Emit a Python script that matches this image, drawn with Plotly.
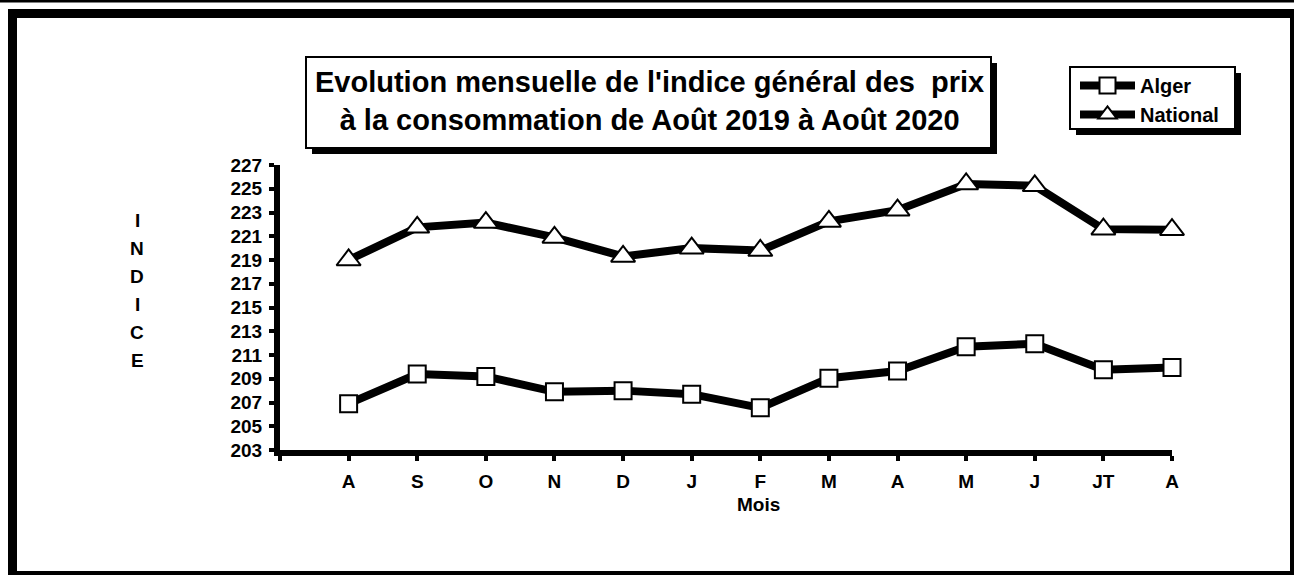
import plotly.graph_objects as go

months = ["A", "S", "O", "N", "D", "J", "F", "M", "A", "M", "J", "JT", "A"]
alger = [206.9, 209.4, 209.2, 207.9, 208.0, 207.7, 206.55, 209.05, 209.65, 211.7, 211.95, 209.75, 209.95]
national = [219.0, 221.75, 222.15, 220.9, 219.3, 220.0, 219.8, 222.25, 223.2, 225.4, 225.25, 221.6, 221.55]
y_ticks = list(range(203, 228, 2))
title_lines = ["Evolution mensuelle de l'indice général des\u00a0 prix",
               "à la consommation de Août 2019 à Août 2020"]
y_title = "INDICE"
x_title = "Mois"

W, H = 1294, 575
L, R, T, B = 280, 1172, 165, 450
FONT = "Liberation Sans, Arial, sans-serif"


def px(x):
    return (x - L) / (R - L)


def py(y):
    return (B - y) / (B - T)


xs = list(range(len(months)))

fig = go.Figure()
fig.add_trace(go.Scatter(
    x=xs, y=alger, name="Alger", mode="lines+markers", legendgroup="a",
    line=dict(color="black", width=8),
    marker=dict(symbol="square", size=17, color="white", line=dict(color="black", width=2)),
    cliponaxis=False,
))
fig.add_trace(go.Scatter(
    x=xs, y=national, name="National", mode="lines+markers", legendgroup="b",
    line=dict(color="black", width=8),
    marker=dict(symbol="triangle-up", size=21, color="white", line=dict(color="black", width=2)),
    cliponaxis=False,
))

shapes = []


def rect(x0, y0, x1, y1, fill="black", line_w=0, line_c="black", layer="below"):
    shapes.append(dict(type="rect", xref="paper", yref="paper",
                       x0=px(x0), x1=px(x1), y0=py(y1), y1=py(y0),
                       fillcolor=fill, line=dict(width=line_w, color=line_c), layer=layer))


# outer frame
rect(0, 0, W, 2.5)
rect(8, 9, W, 18)
rect(8, 9, 17, H)
rect(1290, 9, W, H)
rect(8, 571, W, H)
# title box with shadow
rect(312, 63, 997, 154)
rect(306, 57, 991, 148, fill="white", line_w=2)
# legend box with shadow
rect(1076, 73, 1241, 135)
rect(1070, 67, 1235, 129, fill="white", line_w=2)

annotations = []
annotations.append(dict(xref="paper", yref="paper", x=px(649), y=py(101),
                        text="<br>".join(title_lines), showarrow=False,
                        font=dict(family=FONT, size=29, color="black", weight="bold"),
                        xanchor="center", yanchor="middle", align="center"))
for i, ch in enumerate(y_title):
    annotations.append(dict(xref="paper", yref="paper", x=px(137), y=py(220 + i * 28),
                            text=ch, showarrow=False,
                            font=dict(family=FONT, size=19, color="black", weight="bold"),
                            xanchor="center", yanchor="middle"))
annotations.append(dict(xref="paper", yref="paper", x=px(758), y=py(504),
                        text=x_title, showarrow=False,
                        font=dict(family=FONT, size=19, color="black", weight="bold"),
                        xanchor="center", yanchor="middle"))

fig.update_layout(
    width=W, height=H,
    margin=dict(l=L, r=W - R, t=T, b=H - B, pad=0),
    paper_bgcolor="white", plot_bgcolor="white",
    font=dict(family=FONT, color="black", size=19, weight="bold"),
    showlegend=True,
    legend=dict(x=px(1075), y=py(66), xanchor="left", yanchor="top",
                bgcolor="rgba(0,0,0,0)", borderwidth=0,
                font=dict(family=FONT, size=20, color="black", weight="bold"),
                itemwidth=55, tracegroupgap=0, traceorder="grouped"),
    shapes=shapes,
    annotations=annotations,
    xaxis=dict(range=[-1, 12], tickmode="array", tickvals=[-1] + xs, ticktext=[""] + months,
               showgrid=False, zeroline=False, showline=True, linecolor="black", linewidth=6,
               ticks="outside", ticklen=5, tickwidth=4, tickcolor="black",
               ticklabelstandoff=4,
               tickfont=dict(family=FONT, size=19, color="black", weight="bold")),
    yaxis=dict(range=[203, 227], tickmode="array", tickvals=y_ticks,
               showgrid=False, zeroline=False, showline=True, linecolor="black", linewidth=6,
               ticks="outside", ticklen=5, tickwidth=4, tickcolor="black",
               ticklabelstandoff=3,
               tickfont=dict(family=FONT, size=19, color="black", weight="bold")),
)

fig.write_html("out.html", config={"displayModeBar": False},
               post_script="document.body.style.margin='0px';document.body.style.overflow='hidden';")
